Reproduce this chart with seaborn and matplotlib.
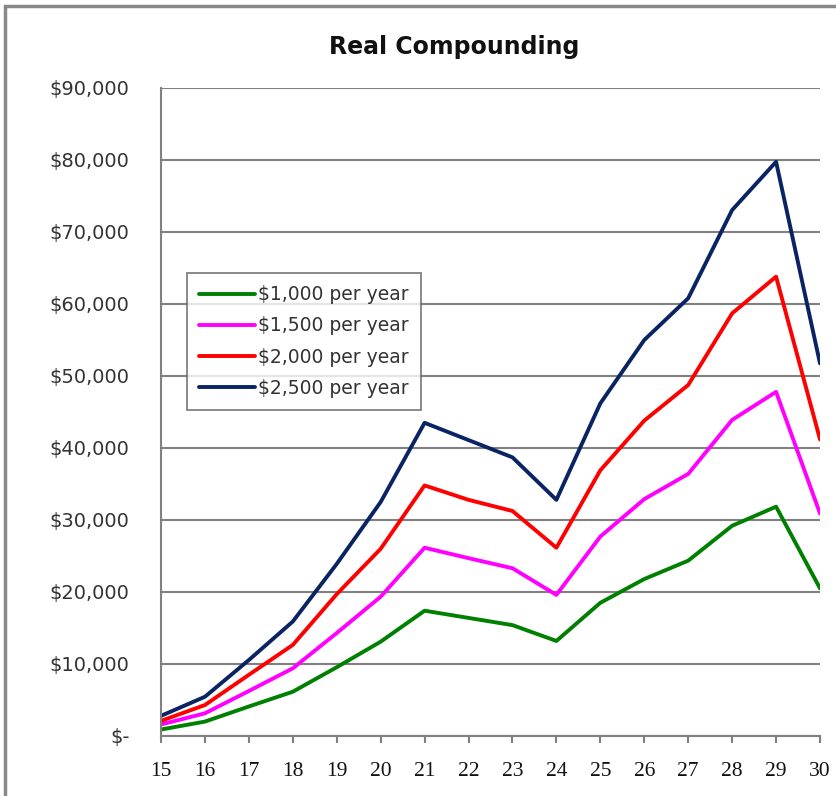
import matplotlib
matplotlib.use("Agg")
import matplotlib.pyplot as plt
import seaborn as sns
import pandas as pd
from matplotlib.patches import Rectangle
from matplotlib.ticker import FuncFormatter

ages = list(range(15, 31))
s1000 = [900, 2000, 4100, 6150, 9550, 13100, 17400, 16400, 15400, 13200, 18500, 21800, 24350, 29200, 31850, 20500]
s1500 = [1600, 3150, 6250, 9400, 14300, 19350, 26150, 24700, 23300, 19600, 27700, 32900, 36400, 43900, 47800, 30900]
s2000 = [2100, 4300, 8500, 12650, 19700, 26000, 34800, 32800, 31250, 26150, 36900, 43800, 48750, 58700, 63800, 41200]
s2500 = [2800, 5450, 10550, 15900, 23900, 32500, 43500, 41100, 38700, 32800, 46200, 55000, 60800, 73050, 79750, 51750]
labels = ["$1,000 per year", "$1,500 per year", "$2,000 per year", "$2,500 per year"]
colors = ["#008000", "#FF00FF", "#FF0000", "#0a2463"]
yticks = list(range(0, 90001, 10000))

rows = []
for lab, vals in zip(labels, [s1000, s1500, s2000, s2500]):
    for a, v in zip(ages, vals):
        rows.append({"Age": a, "Value": v, "Series": lab})
df = pd.DataFrame(rows)

sns.set_style("white")
plt.rcParams['font.family'] = ['DejaVu Sans']

fig = plt.figure(figsize=(8.37, 7.96), dpi=100)
ax = fig.add_axes([161/837, (796-736)/796, (820-161)/837, (736-88)/796])

sns.lineplot(data=df, x="Age", y="Value", hue="Series", palette=colors,
             hue_order=labels, linewidth=2.8, ax=ax, legend=True)

ax.set_xlim(15, 30)
ax.set_ylim(0, 90000)
ax.set_yticks(yticks)
ax.set_xticks(ages)
ax.yaxis.set_major_formatter(FuncFormatter(lambda v, p: "$-" if v == 0 else f"${int(v):,}"))
ax.grid(axis="y", color="#808080", linewidth=1.5)
ax.grid(axis="x", visible=False)
ax.set_axisbelow(True)
for s in ["top", "right"]:
    ax.spines[s].set_visible(False)
for s in ["left", "bottom"]:
    ax.spines[s].set_color("#808080")
    ax.spines[s].set_linewidth(1.5)
ax.tick_params(axis="y", direction="out", length=4.5, width=1.5, color="#808080",
               labelsize=14, labelcolor="#333333", pad=18)
ax.tick_params(axis="x", direction="out", length=5, width=1.5, color="#808080",
               labelsize=15.5, labelcolor="#111111", pad=14, bottom=True)
for t in ax.get_xticklabels():
    t.set_family("Liberation Serif")
ax.set_xlabel("")
ax.set_ylabel("")

leg = ax.legend(loc="upper left", bbox_to_anchor=(187/837, (796-273)/796),
                bbox_transform=fig.transFigure, fontsize=13.5, frameon=True,
                fancybox=False, handlelength=3.0, handletextpad=0.15,
                labelspacing=0.65, borderpad=0.65, borderaxespad=0)
leg.get_frame().set_edgecolor("#555555")
leg.get_frame().set_linewidth(1.2)
for t in leg.get_texts():
    t.set_color("#333333")

fig.text(454/837, (796-47)/796, "Real Compounding", ha="center", va="center",
         fontsize=17, fontweight="bold", color="#111111")

fig.patches.append(Rectangle((5/837, -0.1), 2.0, 0.1 + (796-6)/796,
                             transform=fig.transFigure, fill=False,
                             edgecolor="#888888", linewidth=2.5))

fig.savefig("out.png", dpi=100, facecolor="white")
